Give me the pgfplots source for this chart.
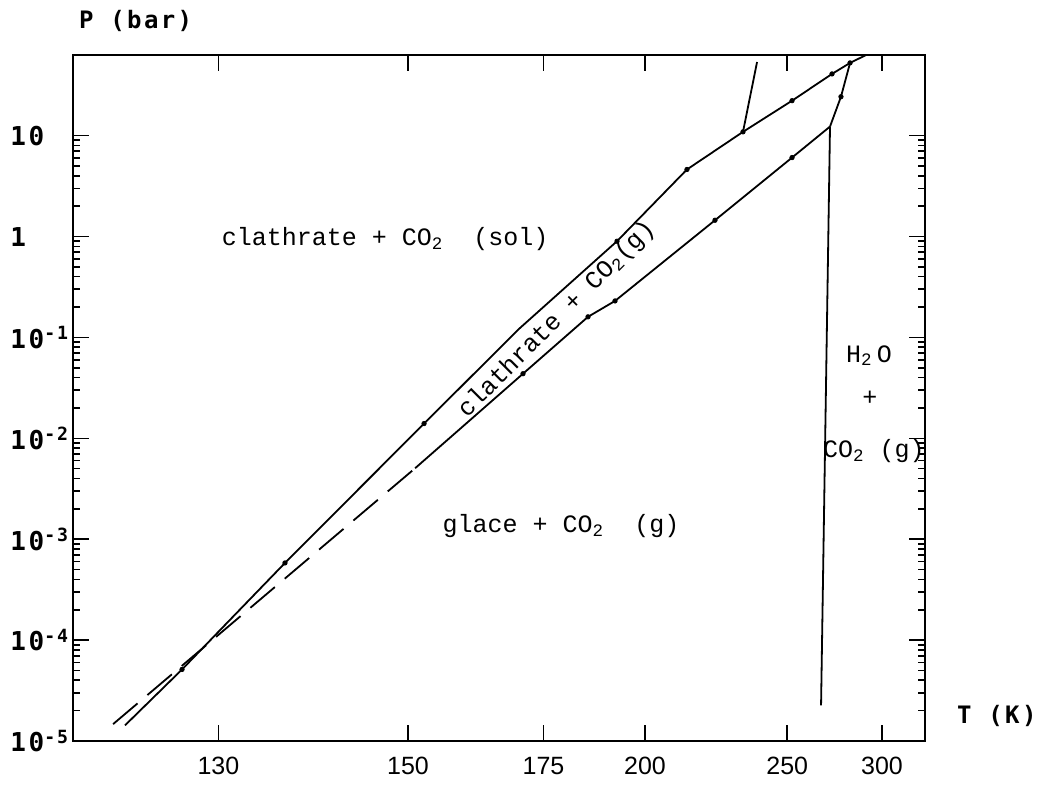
\documentclass[border=0pt]{standalone}
\usepackage{fontspec}
\setmainfont{Liberation Sans}
\newfontfamily\tw{Liberation Mono}
\newfontfamily\dotf[LetterSpace=10]{DejaVu Sans Mono}
\usepackage{pgfplots}
\pgfplotsset{compat=1.18}

% x is 1000/T (reciprocal temperature), drawn reversed so T grows to the right
\pgfplotstableread{
u      P
8.657  1.43e-5
8.256  5.12e-5
7.532  5.82e-4
6.554  1.40e-2
5.886  0.1216
5.197  0.899
4.705  4.62
4.311  10.9
3.966  22.2
3.685  40.9
3.558  52.6
3.445  63.0
}\sublim
\pgfplotstableread{
u      P
6.617  5.05e-3
5.858  0.0437
5.401  0.160
5.211  0.230
4.508  1.45
3.966  6.06
3.699  12.3
}\clathsolid

\begin{document}
\begin{tikzpicture}
\begin{axis}[
  scale only axis, width=426pt, height=343pt,
  x dir=reverse, xmin=3.031, xmax=9.023,
  ymode=log, ymin=1e-5, ymax=63,
  xtick={8,6.6667,5.7143,5,4,3.3333},
  xticklabels={130,150,175,200,250,300},
  ytick={1e-5,1e-4,1e-3,1e-2,1e-1,1,10},
  yticklabels={10\textsuperscript{-5},10\textsuperscript{-4},10\textsuperscript{-3},
    10\textsuperscript{-2},10\textsuperscript{-1},1,10},
  xticklabel style={font=\fontsize{12.5}{15}\selectfont, yshift=-4.5pt},
  yticklabel style={font=\fontsize{13}{15}\dotf\bfseries, anchor=west, inner sep=0pt, xshift=-31.5pt},
  major tick length=8pt, minor tick length=3.5pt,
  every tick/.style={black, line width=0.8pt},
  axis line style={line width=1.4pt},
  xlabel={T (K)}, ylabel={P (bar)},
  every axis x label/.style={at={(rel axis cs:1,0)}, anchor=base west, xshift=12.5pt, yshift=8.5pt,
    font=\fontsize{12}{14}\dotf\bfseries},
  every axis y label/.style={at={(rel axis cs:0,1)}, anchor=base west, xshift=-0.5pt, yshift=13pt,
    font=\fontsize{12}{14}\dotf\bfseries},
  mark options={solid, fill=black},
]
% CO2 sublimation curve
\addplot[black, line width=0.9pt] table[x=u, y=P] {\sublim};
\addplot[only marks, mark=*, mark size=1.1pt] coordinates {
  (8.256,5.12e-5) (7.532,5.82e-4) (6.554,1.40e-2) (5.197,0.899) (4.705,4.62)
  (4.311,10.9) (3.966,22.2) (3.685,40.9) (3.558,52.6)};
% clathrate dissociation: extrapolated part dashed
\addplot[black, line width=0.9pt, dash pattern=on 16pt off 6.5pt] coordinates {
  (8.741,1.47e-5) (6.617,5.05e-3)};
\addplot[black, line width=0.9pt] table[x=u, y=P] {\clathsolid};
\addplot[only marks, mark=*, mark size=1.1pt] coordinates {
  (5.858,0.0437) (5.401,0.160) (5.211,0.230) (4.508,1.45) (3.966,6.06)};
% other boundaries
\addplot[black, line width=0.9pt] coordinates {(3.699,12.3) (3.622,24.3) (3.558,52.6)};
\addplot[only marks, mark=*, mark size=1.1pt] coordinates {(3.622,24.3)};
\addplot[black, line width=0.9pt] coordinates {(3.699,12.3) (3.762,2.25e-5)};
\addplot[black, line width=0.9pt] coordinates {(4.311,10.9) (4.212,53.7)};

\node[font=\fontsize{12.5}{15}\tw] at (axis cs:6.828,0.94)
  {clathrate + CO\textsubscript{2}~~(sol)};
\node[font=\fontsize{12.5}{15}\tw, rotate=45] at (axis cs:5.62,0.15)
  {clathrate + CO\textsubscript{2}(g)};
\node[font=\fontsize{12.5}{15}\tw] at (axis cs:5.591,1.35e-3)
  {glace + CO\textsubscript{2}~~(g)};
\node[font=\fontsize{12.5}{15}\tw] at (axis cs:3.425,0.0658) {H\textsubscript{2}\,O};
\node[font=\fontsize{12.5}{15}\tw] at (axis cs:3.418,0.0248) {+};
\node[font=\fontsize{12.5}{15}\tw] at (axis cs:3.390,7.43e-3) {CO\textsubscript{2}~(g)};
\end{axis}
\pgfresetboundingbox
\path (current axis.south west) ++(-36.5pt,-22pt) coordinate (bl);
\path (current axis.north east) ++(60pt,27.5pt) coordinate (tr);
\path (bl) rectangle (tr);
\end{tikzpicture}
\end{document}
